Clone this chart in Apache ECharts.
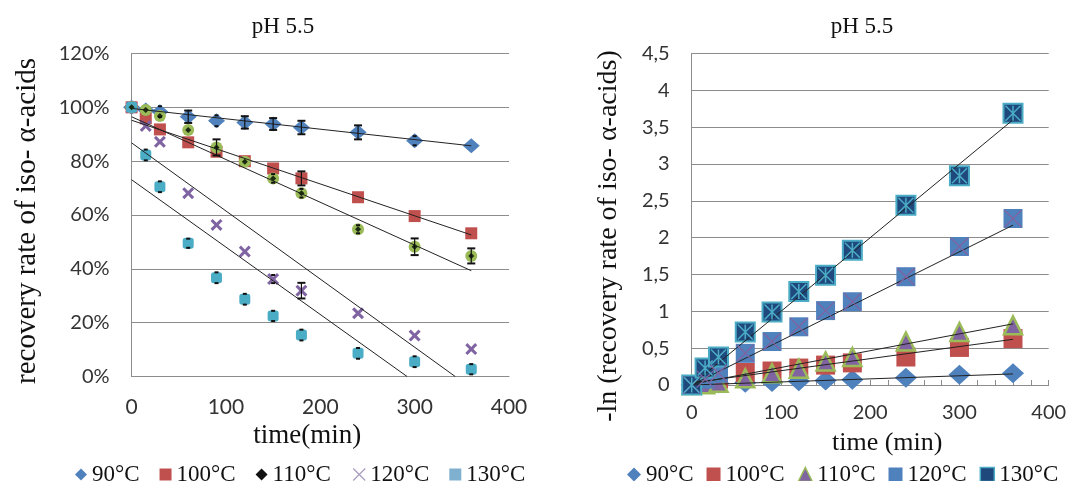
<!DOCTYPE html>
<html>
<head>
<meta charset="utf-8">
<script src="https://cdn.jsdelivr.net/npm/echarts@6/dist/echarts.min.js"></script>
<style>
  html, body { margin: 0; padding: 0; background: #fff; }
  #main { width: 1082px; height: 481px; }
</style>
</head>
<body>
<div id="main"></div>
<script>
// sampling times (min)
var times = [0, 15, 30, 60, 90, 120, 150, 180, 240, 300, 360];

// left chart: recovery rate (%)
var rec90  = [100, 99, 98.4, 96.5, 95, 94.4, 93.8, 92.5, 90.7, 87.6, 85.7];
var rec100 = [100, 95.9, 91.8, 87, 83.5, 80, 77.3, 73.6, 66.6, 59.6, 53.2];
var rec110 = [100, 99, 96.8, 91.6, 85.1, 79.8, 73.6, 68.1, 54.7, 48.2, 44.8];
var rec120 = [100, 93.1, 87.2, 68.1, 56.3, 46.4, 36.2, 31.9, 23.5, 15.2, 10.2];
var rec130 = [100, 82.3, 70.5, 49.5, 36.7, 28.7, 22.5, 15.4, 8.6, 5.5, 2.7];

// error bars (+/- %)
var err90  = [0, 0, 2, 2.3, 2, 2.3, 2.2, 2.5, 2.6, 1.7, 0];
var err100 = [0, 0, 0, 0, 0, 0, 0, 2.6, 0, 0, 0];
var err110 = [0, 0, 0, 0, 3, 0, 1.6, 1.6, 1.5, 3.1, 2.8];
var err120 = [0, 0, 0, 0, 0, 0, 1.5, 2.9, 0, 0, 0];
var err130 = [0, 2, 2, 1.7, 2, 2, 1.9, 2, 2, 2, 1.9];

// trend lines [time, %]
var fitRec90  = [[0, 99.6], [360, 85.7]];
var fitRec100 = [[0, 95.2], [360, 52.6]];
var fitRec110 = [[0, 96.5], [360, 39.3]];
var fitRec120 = [[0, 86.8], [343, 0]];
var fitRec130 = [[0, 73.1], [292, 0]];

// right chart: -ln(recovery rate)
var ln90  = [0, 0.01, 0.02, 0.03, 0.04, 0.05, 0.06, 0.07, 0.1, 0.14, 0.16];
var ln100 = [0, 0.04, 0.08, 0.17, 0.19, 0.23, 0.27, 0.3, 0.38, 0.51, 0.63];
var ln110 = [0, 0.01, 0.03, 0.09, 0.16, 0.22, 0.32, 0.38, 0.59, 0.72, 0.81];
var ln120 = [0, 0.08, 0.16, 0.43, 0.59, 0.79, 1.01, 1.13, 1.47, 1.88, 2.26];
var ln130 = [0, 0.23, 0.38, 0.72, 0.99, 1.27, 1.49, 1.83, 2.44, 2.84, 3.69];

var fitLn90  = [[0, 0], [360, 0.15]];
var fitLn100 = [[0, 0.03], [360, 0.62]];
var fitLn110 = [[0, 0.01], [360, 0.83]];
var fitLn120 = [[0, 0], [360, 2.17]];
var fitLn130 = [[0, 0], [360, 3.6]];

var labels = ['90°C', '100°C', '110°C', '120°C', '130°C'];

var BLUE = '#4F81BD', RED = '#C0504D', GREEN = '#9BBB59', PURPLE = '#8064A2', CYAN = '#4BACC6', NAVY = '#1F497D';
var SERIF = '"Liberation Serif", "Times New Roman", serif';
var SANS = 'Lato, "Open Sans", sans-serif';
var GRID_GREY = '#8c8c8c';

var crossPath = 'path://M0,1.8L1.8,0L5,3.2L8.2,0L10,1.8L6.8,5L10,8.2L8.2,10L5,6.8L1.8,10L0,8.2L3.2,5Z';
var thinX = 'path://M0,0L10,10M10,0L0,10';
var starX = 'path://M0,0L10,10M10,0L0,10M5,0L5,10';

function pts(ys){
    return times.map(function(t, i){ return [t, ys[i]]; });
}

function errPts(ys, es){
    return times.map(function(t, i){ return [t, ys[i], es[i]]; });
}

function renderErr(params, api){
    var t = api.value(0), v = api.value(1), e = api.value(2);
    if(!e) return null;
    var hi = api.coord([t, v + e]);
    var lo = api.coord([t, v - e]);
    // small errors only show as short dashes at the marker edge
    var w = e < 2.1 ? 2 : 4;
    var st = {stroke: '#111', lineWidth: 2};
    return {
        type: 'group',
        children: [
            {type: 'line', shape: {x1: hi[0], y1: hi[1], x2: lo[0], y2: lo[1]}, style: {stroke: '#111', lineWidth: e < 2.1 ? 0 : 1.2}},
            {type: 'line', shape: {x1: hi[0] - w, y1: hi[1], x2: hi[0] + w, y2: hi[1]}, style: st},
            {type: 'line', shape: {x1: lo[0] - w, y1: lo[1], x2: lo[0] + w, y2: lo[1]}, style: st}
        ]
    };
}

function fitLine(data, grid){
    return {
        type: 'line', xAxisIndex: grid, yAxisIndex: grid, data: data,
        symbol: 'none', silent: true, z: 3,
        lineStyle: {color: '#222', width: 1}
    };
}

function scatter(name, data, grid, symbol, size, style, z){
    style.opacity = 1;
    return {
        name: name, type: 'scatter', xAxisIndex: grid, yAxisIndex: grid,
        data: data, symbol: symbol, symbolSize: size,
        itemStyle: style, z: z || 2
    };
}

function errSeries(data){
    return {
        type: 'custom', xAxisIndex: 0, yAxisIndex: 0, data: data,
        renderItem: renderErr, z: 4, silent: true
    };
}

var axisLabel = {fontFamily: SANS, fontSize: 20, color: '#333'};

var option = {
    animation: false,
    backgroundColor: '#fff',
    grid: [
        {left: 131.6, top: 53.5, width: 377.4, height: 323},
        {left: 691.7, top: 53.5, width: 357, height: 331.5}
    ],
    xAxis: [
        {
            gridIndex: 0, type: 'value', min: 0, max: 400, interval: 100,
            name: 'time(min)', nameLocation: 'middle', nameGap: 43,
            nameTextStyle: {fontFamily: SERIF, fontSize: 27, color: '#111', padding: [0, 26, 0, 0]},
            axisLine: {lineStyle: {color: GRID_GREY}},
            axisTick: {show: false},
            splitLine: {show: false},
            axisLabel: Object.assign({}, axisLabel, {fontSize: 21, margin: 20})
        },
        {
            gridIndex: 1, type: 'value', min: 0, max: 400, interval: 100,
            name: 'time (min)', nameLocation: 'middle', nameGap: 45,
            nameTextStyle: {fontFamily: SERIF, fontSize: 26, color: '#111', padding: [0, 0, 0, 34]},
            axisLine: {lineStyle: {color: GRID_GREY}},
            axisTick: {show: true, inside: true, length: 5, lineStyle: {color: GRID_GREY}},
            minorTick: {show: true, splitNumber: 5, length: 5, lineStyle: {color: GRID_GREY}},
            splitLine: {show: false},
            axisLabel: Object.assign({}, axisLabel, {fontSize: 20, margin: 18})
        }
    ],
    yAxis: [
        {
            gridIndex: 0, type: 'value', min: 0, max: 120, interval: 20,
            axisLine: {show: true, lineStyle: {color: GRID_GREY}},
            axisTick: {show: false},
            splitLine: {lineStyle: {color: GRID_GREY}},
            axisLabel: Object.assign({}, axisLabel, {formatter: '{value}%', margin: 22})
        },
        {
            gridIndex: 1, type: 'value', min: 0, max: 4.5, interval: 0.5,
            axisLine: {show: true, lineStyle: {color: GRID_GREY}},
            axisTick: {show: false},
            splitLine: {lineStyle: {color: GRID_GREY}},
            axisLabel: Object.assign({}, axisLabel, {
                fontSize: 20, margin: 22,
                formatter: function(v){ return String(v).replace('.', ','); }
            })
        }
    ],
    legend: [
        {
            left: 70, top: 458, itemGap: 20, itemWidth: 12, itemHeight: 12,
            textStyle: {fontFamily: SERIF, fontSize: 23, color: '#111'},
            formatter: function(n){ return n.slice(1); },
            data: [
                {name: 'L' + labels[0], icon: 'diamond', itemStyle: {color: BLUE}},
                {name: 'L' + labels[1], icon: 'rect', itemStyle: {color: RED}},
                {name: 'L' + labels[2], icon: 'diamond', itemStyle: {color: '#111'}},
                {name: 'L' + labels[3], icon: thinX, itemStyle: {color: 'none', borderColor: '#a89cc0', borderWidth: 1.2}},
                {name: 'L' + labels[4], icon: 'rect', itemStyle: {color: '#7fb0d0'}}
            ]
        },
        {
            left: 622, top: 458, itemGap: 13, itemWidth: 14, itemHeight: 14,
            textStyle: {fontFamily: SERIF, fontSize: 23, color: '#111'},
            formatter: function(n){ return n.slice(1); },
            data: [
                {name: 'R' + labels[0], icon: 'diamond', itemStyle: {color: BLUE}},
                {name: 'R' + labels[1], icon: 'rect', itemStyle: {color: RED}},
                {name: 'R' + labels[2], icon: 'triangle', itemStyle: {color: PURPLE, borderColor: GREEN, borderWidth: 1.5}},
                {name: 'R' + labels[3], icon: 'rect', itemStyle: {color: BLUE}},
                {name: 'R' + labels[4], icon: 'rect', itemStyle: {color: NAVY, borderColor: CYAN, borderWidth: 1.5}}
            ]
        }
    ],
    graphic: [
        {type: 'text', x: 283, y: 27, style: {text: 'pH 5.5', font: '23px ' + SERIF, fill: '#111', textAlign: 'center', textVerticalAlign: 'middle'}},
        {type: 'text', x: 862, y: 27, style: {text: 'pH 5.5', font: '23px ' + SERIF, fill: '#111', textAlign: 'center', textVerticalAlign: 'middle'}},
        {type: 'text', x: 27, y: 221, rotation: Math.PI / 2, style: {text: 'recovery rate of iso- α-acids', font: '29px ' + SERIF, fill: '#111', textAlign: 'center', textVerticalAlign: 'middle'}},
        {type: 'text', x: 609, y: 236, rotation: Math.PI / 2, style: {text: '-ln (recovery rate of iso- α-acids)', font: '28px ' + SERIF, fill: '#111', textAlign: 'center', textVerticalAlign: 'middle'}}
    ],
    series: [
        // left chart trend lines
        fitLine(fitRec90, 0), fitLine(fitRec100, 0), fitLine(fitRec110, 0),
        fitLine(fitRec120, 0), fitLine(fitRec130, 0),
        // left chart points
        scatter('L' + labels[0], pts(rec90), 0, 'diamond', [17, 15], {color: BLUE}),
        scatter('L' + labels[1], pts(rec100), 0, 'rect', 12, {color: RED}),
        scatter('L' + labels[2], pts(rec110), 0, 'circle', 12, {color: GREEN}),
        scatter('', pts(rec110), 0, 'diamond', 6, {color: '#1b2a10'}, 3),
        scatter('L' + labels[3], pts(rec120), 0, crossPath, 12, {color: PURPLE}),
        scatter('L' + labels[4], pts(rec130), 0, 'roundRect', 11, {color: CYAN}),
        errSeries(errPts(rec90, err90)),
        errSeries(errPts(rec100, err100)),
        errSeries(errPts(rec110, err110)),
        errSeries(errPts(rec120, err120)),
        errSeries(errPts(rec130, err130)),
        // right chart points
        scatter('R' + labels[0], pts(ln90), 1, 'diamond', [22, 20], {color: BLUE}),
        scatter('R' + labels[1], pts(ln100), 1, 'rect', 19, {color: RED}),
        scatter('R' + labels[2], pts(ln110), 1, 'triangle', 18, {color: PURPLE, borderColor: GREEN, borderWidth: 2.5}),
        scatter('R' + labels[3], pts(ln120), 1, 'rect', 19, {color: BLUE}),
        scatter('', pts(ln120), 1, thinX, 17, {color: 'none', borderColor: PURPLE, borderWidth: 1.3}, 3),
        scatter('R' + labels[4], pts(ln130), 1, 'rect', 19, {color: NAVY, borderColor: CYAN, borderWidth: 2}),
        scatter('', pts(ln130), 1, starX, 15, {color: 'none', borderColor: CYAN, borderWidth: 1.5}, 3),
        // right chart trend lines
        fitLine(fitLn90, 1), fitLine(fitLn100, 1), fitLine(fitLn110, 1),
        fitLine(fitLn120, 1), fitLine(fitLn130, 1)
    ]
};

var chart = echarts.init(document.getElementById('main'));
chart.setOption(option);
</script>
</body>
</html>
